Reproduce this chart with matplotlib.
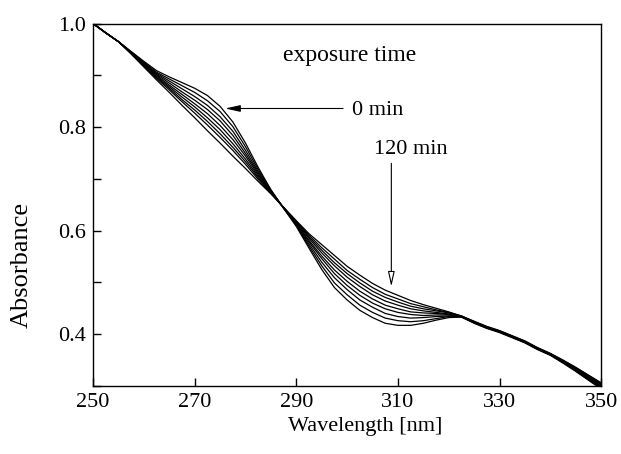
import matplotlib
matplotlib.use("Agg")
import matplotlib.pyplot as plt
from matplotlib.ticker import MultipleLocator

plt.rcParams['font.family'] = ['Liberation Serif', 'DejaVu Serif']

# wavelength grid [nm]
wavelength = [250, 252.5, 255, 257.5, 260, 262.5, 265, 267.5, 270, 272.5,
              275, 277.5, 280, 282.5, 285, 287.5, 290, 292.5, 295, 297.5,
              300, 302.5, 305, 307.5, 310, 312.5, 315, 317.5, 320, 322.5,
              325, 327.5, 330, 332.5, 335, 337.5, 340, 342.5, 345, 347.5, 350]

# absorbance spectra, 0 min ... 120 min exposure
abs_0 = [1.000, .982, .965, .946, .927, .909, .897, .886, .875, .861,
         .840, .810, .769, .722, .679, .643, .608, .566, .525, .490,
         .466, .446, .432, .421, .417, .417, .421, .427, .432, .433,
         .421, .411, .403, .393, .383, .370, .359, .344, .328, .311, .294]
abs_15 = [1.000, .982, .965, .945, .925, .906, .893, .880, .867, .851,
          .830, .801, .762, .718, .678, .643, .610, .570, .532, .499,
          .476, .456, .442, .431, .426, .424, .426, .430, .434, .433,
          .422, .412, .404, .394, .384, .371, .360, .345, .329, .312, .296]
abs_30 = [1.000, .982, .965, .945, .924, .904, .889, .874, .859, .842,
          .820, .792, .755, .714, .677, .644, .611, .574, .539, .509,
          .486, .466, .452, .440, .434, .431, .432, .434, .435, .434,
          .422, .412, .404, .394, .384, .371, .360, .346, .330, .314, .297]
abs_45 = [1.000, .982, .965, .944, .923, .902, .885, .868, .852, .834,
          .812, .784, .749, .711, .676, .644, .613, .578, .546, .517,
          .494, .475, .460, .449, .442, .438, .436, .437, .437, .434,
          .423, .413, .405, .395, .385, .372, .361, .346, .331, .315, .299]
abs_60 = [1.000, .982, .965, .943, .921, .900, .881, .863, .845, .826,
          .803, .776, .744, .708, .675, .644, .614, .581, .551, .524,
          .502, .483, .468, .456, .449, .443, .441, .440, .438, .434,
          .423, .413, .405, .395, .385, .372, .361, .347, .332, .316, .300]
abs_75 = [1.000, .982, .965, .943, .920, .898, .878, .858, .839, .818,
          .795, .768, .738, .705, .674, .644, .615, .585, .557, .532,
          .510, .492, .476, .464, .456, .449, .445, .442, .439, .434,
          .423, .413, .405, .395, .385, .372, .361, .348, .333, .317, .302]
abs_90 = [1.000, .982, .965, .942, .919, .896, .875, .853, .833, .811,
          .787, .761, .733, .702, .673, .644, .617, .588, .562, .538,
          .517, .499, .483, .471, .462, .454, .449, .445, .441, .435,
          .424, .414, .406, .396, .386, .373, .362, .348, .334, .319, .303]
abs_105 = [1.000, .982, .965, .942, .918, .894, .872, .849, .827, .804,
           .780, .755, .728, .699, .672, .645, .618, .591, .567, .545,
           .523, .506, .490, .477, .468, .459, .453, .447, .442, .435,
           .424, .414, .406, .396, .386, .373, .362, .349, .335, .320, .305]
abs_120 = [1.000, .982, .965, .941, .916, .891, .867, .842, .818, .793,
           .769, .744, .720, .695, .671, .645, .619, .594, .573, .552,
           .531, .514, .498, .485, .475, .465, .457, .450, .443, .435,
           .425, .415, .407, .397, .387, .374, .363, .350, .336, .321, .306]

spectra = [abs_0, abs_15, abs_30, abs_45, abs_60, abs_75, abs_90, abs_105, abs_120]

x_ticks = [250, 270, 290, 310, 330, 350]
y_ticks = [0.4, 0.6, 0.8, 1.0]

fig = plt.figure(figsize=(6.21, 4.54), dpi=100)
ax = fig.add_axes([0.150, 0.150, 0.818, 0.798])

for spec in spectra:
    ax.plot(wavelength, spec, color='black', lw=0.9)

ax.set_xlim(250, 350)
ax.set_ylim(0.3, 1.0)
ax.set_xticks(x_ticks)
ax.set_yticks(y_ticks)
ax.set_yticklabels(['0.4', '0.6', '0.8', '1.0'])
ax.yaxis.set_minor_locator(MultipleLocator(0.1))
ax.tick_params(which='both', direction='in', length=6, width=1, labelsize=16, pad=5)
for s in ax.spines.values():
    s.set_linewidth(1.0)

ax.set_xlabel('Wavelength [nm]', fontsize=16)
ax.xaxis.set_label_coords(0.535, -0.086)
ax.set_ylabel('Absorbance', fontsize=19)
ax.yaxis.set_label_coords(-0.118, 0.334)

# annotations
ax.text(300.5, 0.939, 'exposure time', fontsize=17, ha='center', va='center')
ax.text(301.0, 0.832, '0 min', fontsize=16, ha='left', va='center')
ax.text(305.3, 0.756, '120 min', fontsize=16, ha='left', va='center')

ax.annotate('', xy=(276.0, 0.836), xytext=(299.2, 0.836),
            arrowprops=dict(arrowstyle='-|>,head_length=0.9,head_width=0.2',
                            color='black', lw=0.8, shrinkA=0, shrinkB=0))
ax.annotate('', xy=(308.7, 0.492), xytext=(308.7, 0.730),
            arrowprops=dict(arrowstyle='-|>,head_length=0.9,head_width=0.2',
                            fc='white', ec='black', lw=0.8, shrinkA=0, shrinkB=0))

fig.savefig('out.png', dpi=100)
